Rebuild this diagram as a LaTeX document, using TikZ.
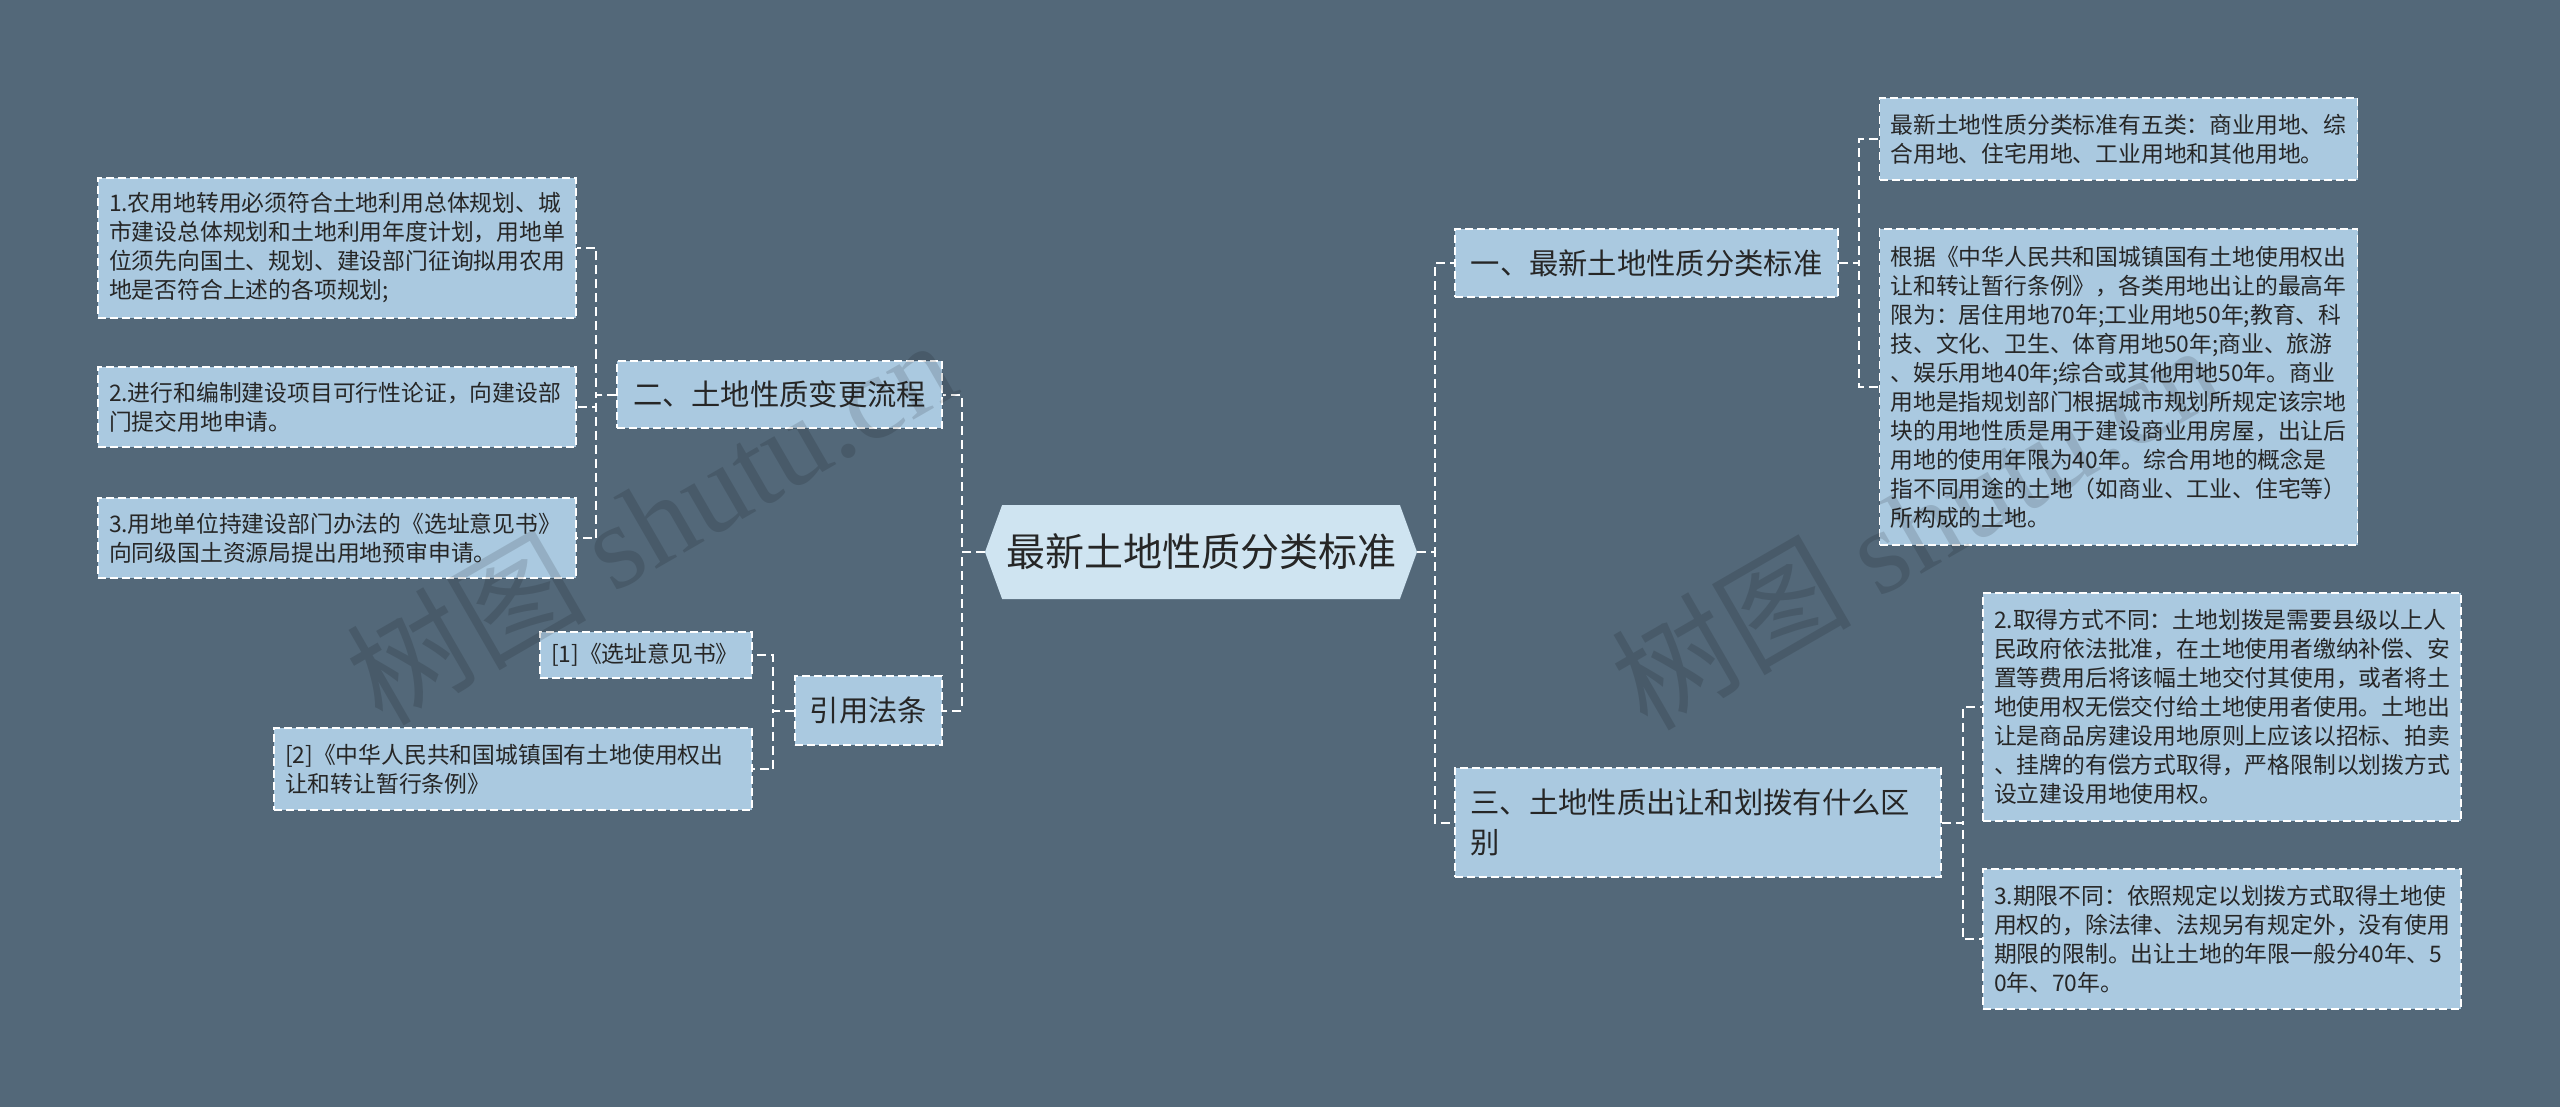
\documentclass[tikz,border=0pt]{standalone}
\usepackage{fontspec}
\setmainfont{Noto Sans CJK SC}
\newfontfamily\wmlatin{Liberation Serif}
\usetikzlibrary{shapes.symbols}
\begin{document}
\begin{tikzpicture}[x=1pt, y=-1pt,
  leaf/.style={rectangle, fill=boxcol, draw=white, line width=1.5pt, dash pattern=on 8pt off 4pt,
    text=inkcol, align=left, inner xsep=11pt, inner ysep=0pt, text width=456pt,
    font=\fontsize{22.8}{29}\selectfont},
  topic/.style={rectangle, fill=boxcol, draw=white, line width=1.5pt, dash pattern=on 8pt off 4pt,
    text=inkcol, align=center, inner sep=0pt, font=\fontsize{29.3}{40}\selectfont},
  hub/.style={signal, signal to=west and east, signal pointer angle=140, fill=hubcol,
    text=inkcol, inner sep=0pt, font=\fontsize{39}{46}\selectfont},
  link/.style={draw=white, line width=2pt, dash pattern=on 9pt off 5pt},
  wmark/.style={rotate=30, text=black, opacity=0.13, inner sep=0pt, font=\fontsize{120}{120}\selectfont}]
\definecolor{bgcol}{HTML}{536879}
\definecolor{boxcol}{HTML}{AAC9E0}
\definecolor{hubcol}{HTML}{CFE4F1}
\definecolor{inkcol}{HTML}{262626}
\fill[bgcol] (0,0) rectangle (2560,1107);
\useasboundingbox (0,0) rectangle (2560,1107);

\node[hub, minimum width=432pt, minimum height=94pt] (hub) at (1201,552) {最新土地性质分类标准};

% left side
\node[topic, minimum width=325pt, minimum height=67pt] (b2) at (779.5,394.5) {二、土地性质变更流程};
\node[leaf, minimum height=140pt] (l1) at (337,248) {1.农用地转用必须符合土地利用总体规划、城\\市建设总体规划和土地利用年度计划，用地单\\位须先向国土、规划、建设部门征询拟用农用\\地是否符合上述的各项规划;};
\node[leaf, minimum height=80pt] (l2) at (337,407) {2.进行和编制建设项目可行性论证，向建设部\\门提交用地申请。};
\node[leaf, minimum height=80pt] (l3) at (337,538) {3.用地单位持建设部门办法的《选址意见书》\\向同级国土资源局提出用地预审申请。};
\node[topic, minimum width=147pt, minimum height=69pt] (cite) at (868.5,710.5) {引用法条};
\node[leaf, text width=190pt, minimum height=46pt] (ref1) at (646,655) {[1]《选址意见书》};
\node[leaf, minimum height=82pt] (ref2) at (513,769) {[2]《中华人民共和国城镇国有土地使用权出\\让和转让暂行条例》};

% right side
\node[topic, minimum width=383pt, minimum height=68pt] (b1) at (1646.5,263) {一、最新土地性质分类标准};
\node[leaf, minimum height=82pt] (r1a) at (2118.5,139) {最新土地性质分类标准有五类：商业用地、综\\合用地、住宅用地、工业用地和其他用地。};
\node[leaf, minimum height=316pt] (r1b) at (2118.5,387) {根据《中华人民共和国城镇国有土地使用权出\\让和转让暂行条例》，各类用地出让的最高年\\限为：居住用地70年;工业用地50年;教育、科\\技、文化、卫生、体育用地50年;商业、旅游\\、娱乐用地40年;综合或其他用地50年。商业\\用地是指规划部门根据城市规划所规定该宗地\\块的用地性质是用于建设商业用房屋，出让后\\用地的使用年限为40年。综合用地的概念是\\指不同用途的土地（如商业、工业、住宅等）\\所构成的土地。};
\node[topic, align=left, text width=455pt, inner xsep=15.5pt, minimum height=109pt] (b3) at (1698,822.5) {三、土地性质出让和划拨有什么区\\别};
\node[leaf, minimum height=228pt] (r3a) at (2222,707) {2.取得方式不同：土地划拨是需要县级以上人\\民政府依法批准，在土地使用者缴纳补偿、安\\置等费用后将该幅土地交付其使用，或者将土\\地使用权无偿交付给土地使用者使用。土地出\\让是商品房建设用地原则上应该以招标、拍卖\\、挂牌的有偿方式取得，严格限制以划拨方式\\设立建设用地使用权。};
\node[leaf, minimum height=140pt] (r3b) at (2222,939) {3.期限不同：依照规定以划拨方式取得土地使\\用权的，除法律、法规另有规定外，没有使用\\期限的限制。出让土地的年限一般分40年、5\\0年、70年。};

\draw[link] (hub.west) -- ++(-23,0) |- (b2.east);
\draw[link] (hub.west) -- ++(-23,0) |- (cite.east);
\draw[link] (b2.west) -- ++(-20,0) |- (l1.east);
\draw[link] (b2.west) -- ++(-20,0) |- (l2.east);
\draw[link] (b2.west) -- ++(-20,0) |- (l3.east);
\draw[link] (cite.west) -- ++(-21,0) |- (ref1.east);
\draw[link] (cite.west) -- ++(-21,0) |- (ref2.east);
\draw[link] (hub.east) -- ++(18,0) |- (b1.west);
\draw[link] (hub.east) -- ++(18,0) |- (b3.west);
\draw[link] (b1.east) -- ++(20,0) |- (r1a.west);
\draw[link] (b1.east) -- ++(20,0) |- (r1b.west);
\draw[link] (b3.east) -- ++(21,0) |- (r3a.west);
\draw[link] (b3.east) -- ++(21,0) |- (r3b.west);

\node[wmark] (wm1) at (650,520) {树图 {\wmlatin shutu.cn}};
\node[wmark] (wm2) at (1915,525) {树图 {\wmlatin shutu.cn}};
\end{tikzpicture}
\end{document}
